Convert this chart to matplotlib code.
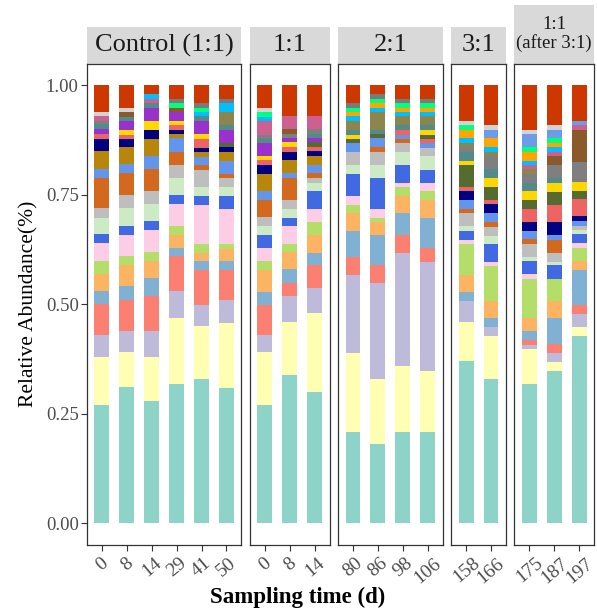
import numpy as np
import matplotlib
matplotlib.use("Agg")
import matplotlib.pyplot as plt
from matplotlib.patches import Rectangle

plt.rcParams['font.family'] = ['Liberation Serif', 'DejaVu Serif']

# Facet groups and their sampling days
panels = ["Control (1:1)", "1:1", "2:1", "3:1", "1:1\n(after 3:1)"]
days = [["0", "8", "14", "29", "41", "50"],
        ["0", "8", "14"],
        ["80", "86", "98", "106"],
        ["158", "166"],
        ["175", "187", "197"]]

# Relative abundance of each taxon per sample (18 samples, in facet order),
# listed from the bottom of the stack to the top.
teal        = [.269, .309, .279, .318, .330, .309, .269, .339, .299, .209, .180, .209, .209, .369, .330, .318, .348, .428]
yellow      = [.110, .080, .100, .150, .120, .149, .120, .120, .180, .180, .149, .149, .139, .089, .098, .080, .020, .020]
lavender    = [.049, .049, .059, .061, .049, .051, .039, .060, .059, .180, .220, .259, .249, .049, .020, .010, .020, .030]
salmon      = [.070, .071, .080, .079, .080, .069, .070, .030, .051, .040, .040, .040, .030, .000, .000, .010, .020, .020]
steel       = [.030, .030, .040, .020, .020, .020, .030, .030, .029, .060, .069, .051, .070, .021, .020, .020, .060, .080]
apricot     = [.040, .049, .039, .030, .019, .029, .049, .039, .040, .040, .030, .039, .040, .039, .039, .030, .039, .020]
lime        = [.030, .020, .020, .020, .020, .011, .020, .020, .030, .020, .010, .020, .020, .070, .081, .090, .051, .030]
pink        = [.039, .049, .050, .049, .089, .080, .030, .039, .030, .020, .020, .010, .020, .010, .009, .010, .000, .011]
royalblue   = [.021, .020, .020, .020, .020, .030, .030, .020, .040, .050, .070, .040, .030, .020, .040, .030, .030, .020]
mint        = [.038, .040, .039, .040, .020, .020, .020, .020, .020, .020, .030, .030, .030, .010, .020, .010, .009, .010]
silver      = [.021, .030, .030, .030, .040, .020, .020, .020, .011, .030, .030, .020, .020, .030, .020, .030, .020, .010]
chocolate   = [.070, .050, .050, .030, .010, .010, .040, .051, .010, .000, .011, .010, .000, .010, .011, .010, .030, .000]
cornflower  = [.020, .020, .030, .030, .020, .030, .020, .010, .020, .020, .020, .009, .010, .020, .020, .020, .010, .011]
goldenrod   = [.040, .039, .040, .011, .010, .020, .040, .030, .020, .000, .000, .000, .000, .000, .000, .000, .000, .000]
navy        = [.029, .020, .020, .009, .011, .011, .020, .020, .010, .000, .000, .000, .000, .020, .020, .020, .030, .010]
indianred   = [.011, .009, .000, .011, .020, .000, .010, .011, .011, .000, .000, .011, .010, .010, .010, .030, .039, .039]
darkolive   = [.000, .000, .000, .000, .000, .010, .000, .000, .010, .010, .009, .000, .009, .050, .030, .020, .030, .020]
gold        = [.000, .011, .020, .009, .011, .000, .010, .010, .000, .010, .000, .000, .011, .010, .020, .020, .020, .020]
purple      = [.010, .019, .030, .020, .029, .030, .030, .009, .009, .000, .000, .000, .000, .000, .000, .000, .000, .000]
cadet       = [.011, .011, .011, .000, .011, .010, .009, .000, .010, .011, .011, .011, .011, .020, .020, .020, .011, .000]
grey_mid    = [.009, .000, .000, .000, .000, .000, .010, .010, .011, .000, .000, .000, .000, .011, .030, .020, .030, .045]
khaki       = [.000, .000, .000, .000, .000, .030, .000, .000, .000, .020, .040, .020, .020, .010, .010, .010, .000, .000]
sienna      = [.000, .010, .000, .010, .000, .000, .000, .011, .000, .000, .000, .000, .000, .000, .000, .000, .020, .074]
mauve       = [.011, .000, .010, .000, .000, .000, .030, .030, .030, .000, .000, .000, .000, .000, .000, .010, .010, .010]
skyblue     = [.000, .000, .010, .000, .010, .020, .011, .000, .000, .011, .010, .010, .010, .010, .011, .010, .011, .000]
orange      = [.000, .000, .000, .000, .000, .000, .000, .000, .000, .010, .010, .010, .010, .020, .020, .020, .010, .000]
spring      = [.000, .000, .000, .011, .010, .000, .010, .000, .000, .010, .011, .010, .010, .011, .000, .011, .010, .000]
lightblue   = [.000, .000, .000, .000, .000, .000, .000, .000, .000, .000, .000, .000, .000, .000, .020, .029, .020, .010]
grey_top    = [.000, .000, .000, .010, .010, .011, .000, .000, .000, .010, .010, .011, .011, .000, .000, .000, .000, .000]
lightgrey   = [.008, .010, .000, .000, .000, .000, .010, .000, .000, .000, .000, .000, .000, .009, .011, .011, .011, .000]
redorange   = [.061, .051, .020, .030, .041, .030, .051, .070, .070, .041, .020, .030, .030, .081, .090, .101, .090, .081]

stack = [
    (teal, "#8DD3C7"), (yellow, "#FFFFB3"), (lavender, "#BEBADA"), (salmon, "#FB8072"),
    (steel, "#80B1D3"), (apricot, "#FDB462"), (lime, "#B3DE69"), (pink, "#FCCDE5"),
    (royalblue, "#4169E1"), (mint, "#CCEBC5"), (silver, "#BEBEBE"), (chocolate, "#D2691E"),
    (cornflower, "#6495ED"), (goldenrod, "#B8860B"), (navy, "#000080"), (indianred, "#EE6363"),
    (darkolive, "#556B2F"), (gold, "#FFD700"), (purple, "#9932CC"), (cadet, "#528B8B"),
    (grey_mid, "#7F7F7F"), (khaki, "#8B864E"), (sienna, "#8B5A2B"), (mauve, "#CD6090"),
    (skyblue, "#00BFFF"), (orange, "#FFA500"), (spring, "#00FF7F"), (lightblue, "#6C9BEA"),
    (grey_top, "#7A7A7A"), (lightgrey, "#D3D3D3"), (redorange, "#CD3700"),
]

values = np.array([s for s, _ in stack])
values = values / values.sum(axis=0)
colors = [c for _, c in stack]

W, H = 597, 609
fig = plt.figure(figsize=(W / 100, H / 100), dpi=100)

unit = 24.9          # px per discrete x step
gap = 8.5            # px between facets
left0 = 87.0
y_top_px, y_bot_px = 63.5, 545.0
strip_tops = [27, 27, 27, 27, 5]
strip_sizes = [19, 19, 19, 19, 13.5]

edge = "#333333"
x = left0
start = 0
for p, (name, dlist) in enumerate(zip(panels, days)):
    n = len(dlist)
    wpx = (n + 0.2) * unit
    ax = fig.add_axes([x / W, 1 - y_bot_px / H, wpx / W, (y_bot_px - y_top_px) / H])
    pos = np.arange(n)
    bottom = np.zeros(n)
    for k in range(values.shape[0]):
        v = values[k, start:start + n]
        ax.bar(pos, v, bottom=bottom, width=0.6, color=colors[k], linewidth=0)
        bottom += v
    ax.set_xlim(-0.6, n - 0.4)
    ax.set_ylim(-0.05, 1.05)
    ax.set_xticks(pos)
    ax.set_xticklabels(dlist, rotation=40, ha="center", va="top",
                       fontsize=14, color="#4D4D4D")
    ax.tick_params(axis="x", length=4, color=edge, width=0.8, pad=3)
    for s in ax.spines.values():
        s.set_color(edge)
        s.set_linewidth(0.9)
    if p == 0:
        ax.set_yticks([0, 0.25, 0.5, 0.75, 1.0])
        ax.set_yticklabels(["0.00", "0.25", "0.50", "0.75", "1.00"],
                           fontsize=13.5, color="#4D4D4D")
        ax.tick_params(axis="y", length=4, color=edge, width=0.8, pad=2)
        ax.set_ylabel("Relative Abundance(%)", fontsize=15.5, labelpad=5)
    else:
        ax.set_yticks([])
    # facet strip
    st = strip_tops[p]
    fig.add_artist(Rectangle((x / W, 1 - y_top_px / H), wpx / W, (y_top_px - st) / H,
                             transform=fig.transFigure, facecolor="#D9D9D9",
                             edgecolor="none", zorder=0))
    fig.text((x + wpx / 2) / W, 1 - (st + y_top_px) / 2 / H, name,
             ha="center", va="center", fontsize=strip_sizes[p],
             linespacing=1.1, color="#1A1A1A")
    x += wpx + gap
    start += n

fig.text(298 / W, 1 - 597 / H, "Sampling time (d)",
         ha="center", va="center", fontsize=16.5, fontweight="bold")

fig.savefig("out.png", dpi=100)
